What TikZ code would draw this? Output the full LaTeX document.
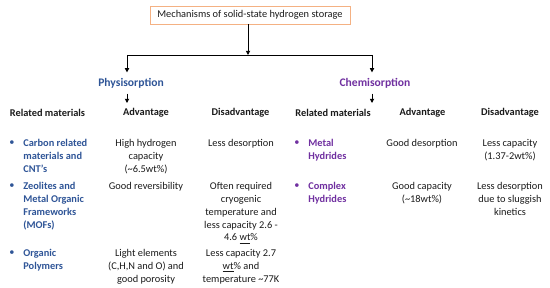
\documentclass[tikz,border=0pt]{standalone}
\usepackage{fontspec}
\setmainfont{Carlito}
\usepackage{xcolor}
\usetikzlibrary{arrows.meta}
\definecolor{physblue}{HTML}{2F5597}
\definecolor{chempurple}{HTML}{7030A0}
\definecolor{boxline}{HTML}{F4B183}
\definecolor{ink}{HTML}{1A1A1A}

\begin{document}
\begin{tikzpicture}[x=0.02cm,y=-0.02cm,
    font=\fontsize{5.9}{7.3}\selectfont, text=ink,
    every node/.style={inner sep=0pt},
    cell/.style={anchor=north,align=center},
    item/.style={anchor=north west,align=left,font=\fontsize{5.9}{7.3}\selectfont\bfseries},
    hdr/.style={font=\fontsize{5.9}{7.3}\selectfont\bfseries},
    mech/.style={font=\fontsize{6.6}{8}\selectfont\bfseries,inner ysep=3pt},
    tip/.style={-{Triangle[length=2.4pt,width=2.4pt]},line width=0.55pt}]
  \useasboundingbox (0,0) rectangle (550,287);
  % top box
  \node[draw=boxline,line width=0.5pt,minimum width=4cm,minimum height=0.36cm] (title) at (250,15)
      {Mechanisms of solid-state hydrogen storage};
  % branches
  \coordinate (fork) at (248,55);
  \coordinate (lfork) at (127,55);
  \coordinate (rfork) at (372,55);
  \draw[tip] (title.south -| fork) -- (fork);
  \draw[line width=0.55pt] (lfork) -- (rfork);
  \node[mech,text=physblue] (phys) at (131,83) {Physisorption};
  \node[mech,text=chempurple] (chem) at (375,83) {Chemisorption};
  \draw[tip] (lfork) -- (lfork |- phys.north);
  \draw[tip] (rfork) -- (rfork |- chem.north);
  \coordinate (lsub) at (127,103);
  \coordinate (rsub) at (372,103);
  \draw[tip] (lfork |- phys.south) -- (lsub);
  \draw[tip] (rfork |- chem.south) -- (rsub);
  % column heads
  \foreach \x/\lab/\nm in {47.5/Related materials/lrel, 146/Advantage/ladv, 240.5/Disadvantage/ldis,
                           333/Related materials/rrel, 422.5/Advantage/radv, 510/Disadvantage/rdis}
    \node[hdr] (h-\nm) at (\x,113) {\lab};
  % physisorption materials
  \foreach \y/\n in {143/1, 186/2, 253/3}
    \node[text=physblue] (lb\n) at (12,\y) {\textbullet};
  \node[item,text=physblue] (lm1) at (23,139) {Carbon related\\materials and\\CNT's};
  \node[item,text=physblue] (lm2) at (23,182) {Zeolites and\\Metal Organic\\Frameworks\\(MOFs)};
  \node[item,text=physblue] (lm3) at (23,249) {Organic\\Polymers};
  \node[cell] (la1) at (146,139) {High hydrogen\\capacity\\(\textasciitilde6.5wt\%)};
  \node[cell] (la2) at (146,182) {Good reversibility};
  \node[cell] (la3) at (146,249) {Light elements\\(C,H,N and O) and\\good porosity};
  \node[cell] (ld1) at (241,139) {Less desorption};
  \node[cell] (ld2) at (241,182) {Often required\\cryogenic\\temperature and\\less capacity 2.6 -\\4.6 \underline{wt}\%};
  \node[cell] (ld3) at (241,249) {Less capacity 2.7\\\underline{wt}\% and\\temperature \textasciitilde77K};
  % chemisorption materials
  \foreach \y/\n in {143/1, 186/2}
    \node[text=chempurple] (rb\n) at (297,\y) {\textbullet};
  \node[item,text=chempurple] (rm1) at (308,139) {Metal\\Hydrides};
  \node[item,text=chempurple] (rm2) at (308,182) {Complex\\Hydrides};
  \node[cell] (ra1) at (422,139) {Good desorption};
  \node[cell] (ra2) at (422,182) {Good capacity\\(\textasciitilde18wt\%)};
  \node[cell] (rd1) at (510,139) {Less capacity\\(1.37-2wt\%)};
  \node[cell] (rd2) at (510,182) {Less desorption\\due to sluggish\\kinetics};
\end{tikzpicture}
\end{document}
